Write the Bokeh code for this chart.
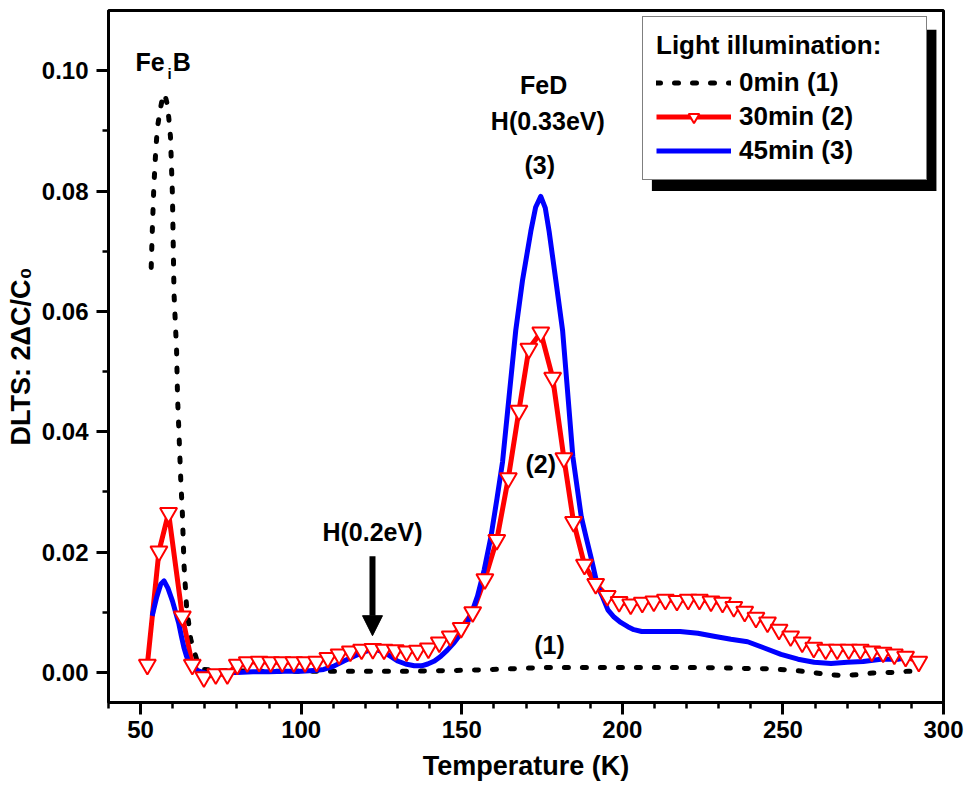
from bokeh.plotting import figure
from bokeh.models import (FixedTicker, PrintfTickFormatter, Legend, LegendItem,
                          BoxAnnotation, Arrow, NormalHead, Label)
from bokeh.embed import file_html
from bokeh.resources import INLINE

FONT = "Liberation Sans"

# ---------------- data ----------------
x_ticks = [50, 100, 150, 200, 250, 300]
y_ticks = [0.00, 0.02, 0.04, 0.06, 0.08, 0.10]

# 0 min (1) - black dotted
temp_0min = [53.3, 53.6, 54.1, 54.7, 55.2, 56.0, 56.7, 57.3, 57.8, 58.3, 58.8, 59.3, 59.9,
             60.4, 61.2, 61.5, 62.0, 62.5, 63.0, 63.5, 64.3, 65.6, 67.7, 69.6, 75, 85, 95,
             105, 115, 125, 135, 145, 155, 165, 175, 185, 195, 205, 215, 225, 235, 245,
             252, 258, 263, 268, 273, 278, 284, 289, 292]
dlts_0min = [0.0673, 0.0728, 0.0805, 0.0866, 0.0904, 0.0932, 0.0952, 0.0962, 0.0955, 0.0944,
             0.0920, 0.0890, 0.0795, 0.0630, 0.0535, 0.0457, 0.0390, 0.0320, 0.0265, 0.0180,
             0.0110, 0.0055, 0.0017, 0.0005, 0.0003, 0.0002, 0.0002, 0.0002, 0.0002, 0.0002,
             0.0002, 0.0003, 0.0004, 0.0006, 0.0008, 0.0008, 0.0008, 0.0008, 0.0008, 0.0008,
             0.0007, 0.0006, 0.0004, 0.0001, -0.0003, -0.0005, -0.0004, -0.0001, 0.0000,
             0.0002, 0.0002]

# 30 min (2) - red with triangles
temp_30min = [52.1, 55.7, 58.7, 63.0, 66.1, 69.7, 73.4, 77.0, 80.1, 83.2, 86.9, 90.5, 94.1,
              97.7, 101.2, 104.8, 108.3, 111.8, 115.3, 118.8, 122.3, 125.8, 129.3, 132.8,
              136.2, 139.6, 143.0, 146.4, 149.8, 153.4, 157.2, 160.9, 164.5, 167.8, 170.9,
              174.6, 178.3, 181.8, 184.8, 188.2, 191.7, 195.3, 199.0, 202.6, 206.2, 209.8,
              213.4, 217.0, 220.5, 224.0, 227.6, 231.2, 234.7, 238.1, 241.6, 245.2, 248.8,
              252.4, 256.0, 259.6, 263.3, 266.9, 270.5, 274.1, 277.7, 281.2, 284.7, 288.2,
              292.3]
dlts_30min = [0.0013, 0.0201, 0.0265, 0.0093, 0.0013, -0.0008, -0.0003, -0.0003, 0.0013,
              0.0017, 0.0018, 0.0017, 0.0017, 0.0017, 0.0017, 0.0018, 0.0024, 0.0030, 0.0035,
              0.0038, 0.0039, 0.0038, 0.0037, 0.0035, 0.0036, 0.0040, 0.0050, 0.0060, 0.0074,
              0.0100, 0.0155, 0.0220, 0.0323, 0.0435, 0.0538, 0.0565, 0.0490, 0.0356, 0.0250,
              0.0179, 0.0147, 0.0127, 0.0117, 0.0113, 0.0116, 0.0118, 0.0121, 0.0119, 0.0121,
              0.0121, 0.0118, 0.0116, 0.0109, 0.0101, 0.0091, 0.0083, 0.0071, 0.0060, 0.0050,
              0.0041, 0.0038, 0.0038, 0.0038, 0.0038, 0.0035, 0.0033, 0.0030, 0.0026, 0.0018]

# 45 min (3) - blue
temp_45min = [53.6, 55.0, 56.3, 57.3, 58.5, 59.9, 61.0, 61.9, 62.7, 63.5, 64.3, 65.0, 66.5,
              67.7, 70.8, 75, 80, 85, 90, 95, 100, 104, 107, 110, 113.3, 116.5, 119.6, 122.7,
              125.0, 126.9, 130.0, 132.5, 135.2, 137.5, 139.4, 141.5, 143.5, 145.5, 147.7,
              149.8, 151.8, 153.4, 154.9, 157.0, 159.1, 161.0, 162.7, 164.7, 166.8, 168.9,
              171.5, 173.0, 174.6, 176.0, 177.2, 179.3, 181.4, 182.9, 184.6, 187.2, 188.7,
              190.3, 192.3, 193.9, 195.5, 197.4, 199.5, 201.7, 203.6, 206, 210, 213, 218,
              223.5, 228.5, 233.8, 239, 244, 249.4, 254.7, 259.7, 265, 270, 275, 280.5,
              285.8, 290]
dlts_45min = [0.0094, 0.0125, 0.0147, 0.0152, 0.0140, 0.0119, 0.0098, 0.0081, 0.0060, 0.0041,
              0.0027, 0.0017, 0.0008, 0.0003, -0.0002, 0.0000, 0.0000, 0.0001, 0.0001, 0.0002,
              0.0002, 0.0003, 0.0005, 0.0010, 0.0019, 0.0027, 0.0034, 0.0039, 0.0035, 0.0030,
              0.0019, 0.0014, 0.0011, 0.0011, 0.0014, 0.0019, 0.0027, 0.0037, 0.0050, 0.0065,
              0.0083, 0.0104, 0.0127, 0.0171, 0.0226, 0.0290, 0.0350, 0.0457, 0.0568, 0.0651,
              0.0733, 0.0773, 0.0791, 0.0772, 0.0733, 0.0651, 0.0568, 0.0470, 0.0358, 0.0259,
              0.0225, 0.0190, 0.0143, 0.0125, 0.0104, 0.0092, 0.0083, 0.0076, 0.0071, 0.0068,
              0.0068, 0.0068, 0.0068, 0.0065, 0.0060, 0.0055, 0.0051, 0.0041, 0.0030, 0.0022,
              0.0017, 0.0015, 0.0017, 0.0018, 0.0022, 0.0022, 0.0026]

# ---------------- figure ----------------
p = figure(width=964, height=788, x_range=(40, 300), y_range=(-0.005, 0.11),
           output_backend="svg", toolbar_location=None,
           min_border_left=108, min_border_right=21, min_border_top=10, min_border_bottom=86)
p.xgrid.visible = False
p.ygrid.visible = False
p.background_fill_color = "white"
p.border_fill_color = "white"
p.outline_line_color = "black"
p.outline_line_width = 3
p.outline_line_alpha = 1

for ax in (p.xaxis[0], p.yaxis[0]):
    ax.axis_line_width = 3
    ax.major_tick_line_width = 3
    ax.minor_tick_line_width = 2.5
    ax.major_tick_in = 0
    ax.major_tick_out = 12
    ax.minor_tick_in = 0
    ax.minor_tick_out = 6
    ax.major_label_text_font = FONT
    ax.major_label_text_font_style = "bold"
    ax.major_label_text_font_size = "24px"
    ax.major_label_text_color = "black"
    ax.axis_label_text_font = FONT
    ax.axis_label_text_font_style = "bold"
    ax.axis_label_text_font_size = "27px"
    ax.axis_label_text_color = "black"

p.xaxis.ticker = FixedTicker(ticks=x_ticks, minor_ticks=list(range(40, 301, 10)))
p.yaxis.ticker = FixedTicker(ticks=y_ticks, minor_ticks=[i / 100 for i in range(0, 11)])
p.yaxis.formatter = PrintfTickFormatter(format="%.2f")
p.xaxis.axis_label = "Temperature (K)"
p.yaxis.axis_label = "DLTS: 2\u0394C/C\u2080"
p.xaxis.major_label_standoff = 6
p.yaxis.major_label_standoff = 8
p.xaxis.axis_label_standoff = 10
p.yaxis.axis_label_standoff = 3

r0 = p.line(temp_0min, dlts_0min, line_color="black", line_width=5,
            line_dash="4 14", line_cap="round")
r2l = p.line(temp_30min, dlts_30min, line_color="#ff0000", line_width=5, line_join="round")
r3 = p.line(temp_45min, dlts_45min, line_color="#0000ff", line_width=5, line_join="round")
r2s = p.scatter(temp_30min, dlts_30min, marker="inverted_triangle", size=17,
                line_color="#ff0000", line_width=2, fill_color="white")

# annotations
def lab(x, y, text, size="25px", align="center", baseline="middle"):
    p.add_layout(Label(x=x, y=y, text=text, text_font=FONT, text_font_style="bold",
                       text_font_size=size, text_align=align, text_baseline=baseline,
                       text_color="black"))

lab(48.4, 0.1015, "Fe", align="left", baseline="alphabetic")
lab(58.4, 0.0996, "i", size="15px", align="left", baseline="alphabetic")
lab(60.0, 0.1015, "B", align="left", baseline="alphabetic")
lab(175.5, 0.0976, "FeD")
lab(176.8, 0.0916, "H(0.33eV)")
lab(174.3, 0.0843, "(3)")
lab(174.6, 0.0347, "(2)")
lab(177.3, 0.0045, "(1)")
lab(122.2, 0.0234, "H(0.2eV)")

p.add_layout(Arrow(end=NormalHead(size=20, fill_color="black", line_color="black"),
                   x_start=122.2, y_start=0.0193, x_end=122.2, y_end=0.0061,
                   line_width=6, line_color="black"))

# legend shadow
p.add_layout(BoxAnnotation(left=209.2, right=297.8, top=0.1068, bottom=0.0800,
                           fill_color="black", fill_alpha=1, line_color=None))

legend = Legend(items=[LegendItem(label="0min (1)", renderers=[r0]),
                       LegendItem(label="30min (2)", renderers=[r2l, r2s]),
                       LegendItem(label="45min (3)", renderers=[r3])],
                location=(534, 522), title="Light illumination:")
legend.title_text_font = FONT
legend.title_text_font_style = "bold"
legend.title_text_font_size = "26px"
legend.title_text_color = "black"
legend.label_text_font = FONT
legend.label_text_font_style = "bold"
legend.label_text_font_size = "26px"
legend.label_text_color = "black"
legend.border_line_color = "black"
legend.border_line_width = 1.5
legend.background_fill_color = "white"
legend.background_fill_alpha = 1
legend.padding = 13
legend.spacing = 3
legend.glyph_width = 75
legend.glyph_height = 27
legend.label_height = 27
legend.label_width = 174
legend.label_standoff = 8
legend.title_standoff = 6
legend.margin = 0
p.add_layout(legend)

open("out.html", "w").write(file_html(p, INLINE))
